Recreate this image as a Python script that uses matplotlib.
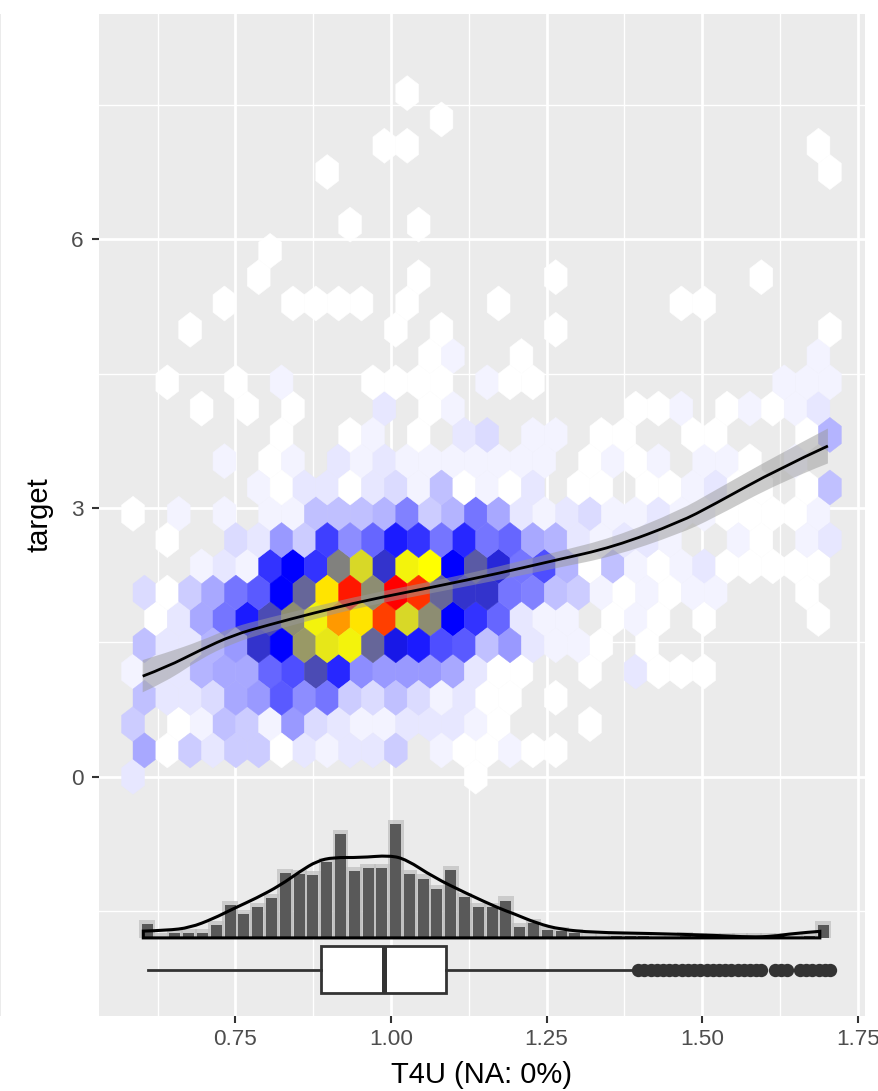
import numpy as np
import matplotlib
matplotlib.use("Agg")
import matplotlib.pyplot as plt
from matplotlib.colors import LinearSegmentedColormap
from matplotlib.patches import PathPatch, Rectangle
from matplotlib.path import Path

plt.rcParams['font.family'] = ['Liberation Sans', 'DejaVu Sans']

# hexagon bins: half-step column index and count for each row, row 0 at the bottom
cols_r00 = [0, 30]
n_r00 = [3, 1]
cols_r01 = [1, 3, 5, 7, 9, 11, 13, 15, 17, 19, 21, 23, 27, 29, 31, 33, 35, 37]
n_r01 = [8, 1, 5, 3, 5, 5, 1, 3, 2, 3, 3, 5, 2, 1, 1, 2, 1, 1]
cols_r02 = [0, 4, 6, 8, 10, 12, 14, 16, 18, 20, 22, 24, 26, 28, 30, 32, 40]
n_r02 = [5, 1, 2, 6, 5, 2, 9, 4, 3, 2, 2, 3, 3, 3, 2, 1, 1]
cols_r03 = [1, 3, 5, 7, 9, 11, 13, 15, 17, 19, 21, 23, 25, 27, 29, 31, 33, 37]
n_r03 = [6, 3, 3, 4, 8, 9, 14, 10, 12, 5, 4, 6, 4, 2, 3, 1, 1, 1]
cols_r04 = [0, 2, 4, 6, 8, 10, 12, 14, 16, 18, 20, 22, 24, 26, 28, 30, 32, 34, 40, 44, 46, 48, 50]
n_r04 = [2, 3, 3, 7, 8, 8, 13, 15, 27, 18, 10, 9, 9, 9, 8, 3, 1, 1, 1, 3, 1, 1, 1]
cols_r05 = [1, 3, 5, 7, 9, 11, 13, 15, 17, 19, 21, 23, 25, 27, 29, 31, 33, 35, 37, 39, 41, 45]
n_r05 = [6, 3, 3, 7, 9, 25, 21, 33, 39, 40, 29, 23, 19, 15, 14, 6, 9, 3, 2, 2, 1, 1]
cols_r06 = [2, 4, 6, 8, 10, 12, 14, 16, 18, 20, 22, 24, 26, 28, 30, 32, 34, 36, 38, 42, 44, 46, 50, 60]
n_r06 = [1, 3, 8, 12, 19, 27, 32, 40, 49, 43, 56, 38, 32, 21, 17, 13, 3, 2, 2, 1, 2, 1, 1, 1]
cols_r07 = [1, 3, 5, 7, 9, 11, 13, 15, 17, 19, 21, 23, 25, 27, 29, 31, 33, 35, 37, 39, 41, 43, 45, 47, 49, 51, 59]
n_r07 = [4, 1, 5, 8, 12, 14, 21, 29, 43, 59, 32, 61, 57, 29, 25, 25, 12, 11, 6, 5, 2, 1, 2, 1, 2, 2, 1]
cols_r08 = [6, 8, 10, 12, 14, 16, 18, 20, 22, 24, 26, 28, 30, 32, 34, 36, 38, 40, 42, 44, 46, 48, 50, 52, 54, 56, 58, 60]
n_r08 = [2, 3, 2, 17, 21, 17, 31, 38, 25, 40, 41, 21, 28, 24, 12, 15, 7, 1, 6, 2, 1, 2, 3, 1, 1, 1, 1, 1]
cols_r09 = [3, 9, 11, 13, 15, 17, 19, 21, 23, 25, 27, 29, 31, 33, 35, 37, 39, 41, 43, 45, 47, 53, 55, 59, 61]
n_r09 = [1, 4, 3, 9, 5, 16, 10, 13, 19, 17, 12, 18, 12, 13, 8, 7, 3, 2, 3, 3, 2, 2, 1, 2, 3]
cols_r10 = [0, 4, 8, 12, 14, 16, 18, 20, 22, 24, 26, 28, 30, 32, 34, 36, 38, 40, 42, 44, 46, 48, 50, 52, 54, 56, 58, 60]
n_r10 = [1, 2, 2, 2, 2, 6, 6, 6, 7, 11, 5, 7, 12, 8, 3, 2, 3, 4, 2, 2, 3, 2, 2, 1, 1, 1, 1, 2]
cols_r11 = [11, 13, 15, 17, 19, 21, 23, 25, 27, 29, 31, 33, 35, 39, 41, 45, 47, 49, 51, 53, 55, 59, 61]
n_r11 = [2, 1, 3, 3, 1, 3, 4, 2, 6, 1, 2, 1, 3, 1, 1, 1, 1, 2, 3, 1, 1, 1, 6]
cols_r12 = [8, 12, 14, 18, 20, 22, 24, 26, 28, 30, 32, 34, 36, 40, 42, 44, 46, 50, 52, 54, 58]
n_r12 = [2, 1, 2, 3, 2, 3, 2, 2, 2, 2, 2, 2, 2, 1, 2, 1, 2, 2, 2, 1, 2]
cols_r13 = [13, 19, 21, 25, 29, 31, 35, 37, 41, 43, 49, 51, 59, 61]
n_r13 = [1, 1, 2, 1, 3, 4, 2, 2, 1, 1, 1, 1, 1, 7]
cols_r14 = [6, 10, 14, 22, 26, 28, 44, 46, 48, 52, 54, 56, 58, 60]
n_r14 = [1, 1, 1, 3, 1, 2, 1, 1, 2, 1, 2, 1, 2, 3]
cols_r15 = [3, 9, 13, 21, 23, 25, 27, 31, 33, 35, 57, 59, 61]
n_r15 = [1, 1, 2, 1, 1, 1, 1, 2, 1, 1, 2, 2, 2]
cols_r16 = [26, 28, 34, 60]
n_r16 = [1, 2, 1, 2]
cols_r17 = [5, 23, 27, 37, 61]
n_r17 = [1, 1, 1, 1, 1]
cols_r18 = [8, 14, 16, 18, 20, 24, 32, 48, 50]
n_r18 = [1, 1, 1, 1, 1, 1, 1, 1, 1]
cols_r19 = [11, 25, 37, 55]
n_r19 = [1, 1, 1, 1]
cols_r20 = [12]
n_r20 = [1]
cols_r21 = [19, 25]
n_r21 = [1, 1]
cols_r22 = []
n_r22 = []
cols_r23 = [17, 61]
n_r23 = [1, 1]
cols_r24 = [22, 24, 60]
n_r24 = [1, 1, 1]
cols_r25 = [27]
n_r25 = [1]
cols_r26 = [24]
n_r26 = [1]

hex_cols = [cols_r00, cols_r01, cols_r02, cols_r03, cols_r04, cols_r05, cols_r06, cols_r07, cols_r08,
            cols_r09, cols_r10, cols_r11, cols_r12, cols_r13, cols_r14, cols_r15, cols_r16, cols_r17,
            cols_r18, cols_r19, cols_r20, cols_r21, cols_r22, cols_r23, cols_r24, cols_r25, cols_r26]
hex_counts = [n_r00, n_r01, n_r02, n_r03, n_r04, n_r05, n_r06, n_r07, n_r08,
              n_r09, n_r10, n_r11, n_r12, n_r13, n_r14, n_r15, n_r16, n_r17,
              n_r18, n_r19, n_r20, n_r21, n_r22, n_r23, n_r24, n_r25, n_r26]

# smooth line with its band
smooth_x = [0.601, 0.640, 0.693, 0.746, 0.801, 0.875, 0.961, 1.067, 1.175, 1.265, 1.357, 1.464, 1.517, 1.625, 1.702]
smooth_y = [1.122, 1.225, 1.412, 1.580, 1.690, 1.826, 1.971, 2.116, 2.273, 2.418, 2.563, 2.842, 3.032, 3.446, 3.692]
smooth_se = [0.18, 0.16, 0.10, 0.09, 0.08, 0.07, 0.065, 0.065, 0.075, 0.09, 0.105, 0.13, 0.15, 0.16, 0.195]

# marginal histogram
hist_counts = [21, 2, 8, 7, 7, 19, 50, 36, 46, 60, 97, 96, 94, 113, 155, 100, 105, 105, 171, 96, 89, 73, 102, 61, 46,
               46, 56, 16, 22, 12, 10, 7, 2, 1, 3, 3, 3, 1, 1, 3, 1, 2, 2, 1, 1, 1, 1, 2, 3, 19]
hist_start = 0.6085
hist_step = 0.02216

# density outline
dens_x = [0.602, 0.640, 0.677, 0.7145, 0.7466, 0.784, 0.822, 0.854, 0.881, 0.907, 0.950, 0.998, 1.025,
          1.068, 1.122, 1.175, 1.196, 1.235, 1.272, 1.325, 1.416, 1.524, 1.577, 1.614, 1.646, 1.689]
dens_y = [-1.724, -1.716, -1.686, -1.585, -1.474, -1.355, -1.213, -1.057, -0.942, -0.901, -0.904, -0.878, -0.926,
          -1.121, -1.306, -1.474, -1.526, -1.638, -1.705, -1.739, -1.750, -1.772, -1.791, -1.783, -1.750, -1.727]
dens_base = -1.800

# boxplot
box_low, box_q1, box_med, box_q3, box_high = 0.609, 0.8875, 0.988, 1.088, 1.387
outliers = [1.397, 1.407, 1.417, 1.427, 1.437, 1.447, 1.457, 1.467, 1.477, 1.487, 1.497, 1.507, 1.517, 1.527, 1.537,
            1.547, 1.557, 1.567, 1.577, 1.587, 1.594, 1.617, 1.627, 1.637, 1.657, 1.667, 1.677, 1.687, 1.697, 1.706]

x_ticks = [0.75, 1.00, 1.25, 1.50, 1.75]
x_tick_labels = ['0.75', '1.00', '1.25', '1.50', '1.75']
x_minor = [0.625, 0.875, 1.125, 1.375, 1.625]
y_ticks = [0, 3, 6]
y_minor = [-1.5, 1.5, 4.5, 7.5]


def curve_parts(xs, ys):
    # quadratic segments with the read points as control points, so the outline has no kinks
    pts = list(zip(xs, ys))
    verts, codes = [], []
    for i in range(1, len(pts) - 1):
        verts.append(pts[i])
        codes.append(Path.CURVE3)
        if i < len(pts) - 2:
            end = ((pts[i][0] + pts[i + 1][0]) / 2, (pts[i][1] + pts[i + 1][1]) / 2)
        else:
            end = pts[-1]
        verts.append(end)
        codes.append(Path.CURVE3)
    return verts, codes


W, H = 879, 1091
fig = plt.figure(figsize=(W / 100, H / 100), dpi=100)
ax = fig.add_axes([99 / W, 1 - 1016 / H, 766 / W, 1002 / H], facecolor='#EBEBEB')

# sliver of the neighbouring panel on the left edge
fig.add_artist(Rectangle((0, 1 - 1016 / H), 1 / W, 1002 / H, transform=fig.transFigure, color='#EBEBEB', lw=0))

# hexbin needs a lattice: two half steps per cell in x, two rows per cell in y
hex_x0, hex_sx = 0.5855, 0.03671
hex_y0, hex_sy = 0.0, 0.587
nx, ny = 32, 15
px, py, pn = [], [], []
for r in range(len(hex_cols)):
    for k, n in zip(hex_cols[r], hex_counts[r]):
        px.append(hex_x0 + k * hex_sx / 2)
        py.append(hex_y0 + r * hex_sy / 2)
        pn.append(n)

cmap = LinearSegmentedColormap.from_list('hex', ['white', 'blue', 'yellow', 'red'])
ax.hexbin(px, py, C=pn, reduce_C_function=np.sum, gridsize=(nx, ny),
          extent=(hex_x0, hex_x0 + nx * hex_sx, hex_y0, hex_y0 + ny * hex_sy),
          cmap=cmap, vmin=1, vmax=61, linewidths=0.35, edgecolors='face', zorder=2)

# band and line
sm_y = np.array(smooth_y)
sm_se = np.array(smooth_se)
up_v, up_c = curve_parts(smooth_x, sm_y + sm_se)
lo_v, lo_c = curve_parts(smooth_x[::-1], (sm_y - sm_se)[::-1])
band_verts = [(smooth_x[0], sm_y[0] + sm_se[0])] + up_v + [(smooth_x[-1], sm_y[-1] - sm_se[-1])] + lo_v + [(0, 0)]
band_codes = [Path.MOVETO] + up_c + [Path.LINETO] + lo_c + [Path.CLOSEPOLY]
ax.add_patch(PathPatch(Path(band_verts, band_codes), facecolor='#999999', alpha=0.5, lw=0, zorder=3))

ln_v, ln_c = curve_parts(smooth_x, smooth_y)
ax.add_patch(PathPatch(Path([(smooth_x[0], smooth_y[0])] + ln_v, [Path.MOVETO] + ln_c),
                       fill=False, edgecolor='black', lw=2.0, capstyle='butt', zorder=4))

# histogram with a pale halo round each bar
centers = hist_start + np.arange(len(hist_counts)) * hist_step
bar_h = np.array(hist_counts) * 0.00745
ax.bar(centers, bar_h + 0.045, bottom=dens_base, width=hist_step * 1.15, color='#BEBEBE', alpha=0.7, lw=0, zorder=3)
ax.bar(centers, bar_h, bottom=dens_base, width=hist_step * 0.8, color='#595959', lw=0, zorder=3.5)

# density outline, closed along its base
de_v, de_c = curve_parts(dens_x, dens_y)
dens_verts = [(dens_x[0], dens_base), (dens_x[0], dens_y[0])] + de_v + [(dens_x[-1], dens_base), (dens_x[0], dens_base), (0, 0)]
dens_codes = [Path.MOVETO, Path.LINETO] + de_c + [Path.LINETO, Path.LINETO, Path.CLOSEPOLY]
ax.add_patch(PathPatch(Path(dens_verts, dens_codes), fill=False, edgecolor='black', lw=2.2, joinstyle='miter', zorder=4))

box_stats = [{'whislo': box_low, 'q1': box_q1, 'med': box_med, 'q3': box_q3, 'whishi': box_high, 'fliers': outliers}]
ax.bxp(box_stats, positions=[-2.155], widths=[0.525], orientation='horizontal', patch_artist=True, showcaps=False,
       manage_ticks=False, zorder=4,
       boxprops=dict(facecolor='white', edgecolor='#333333', linewidth=2.0),
       whiskerprops=dict(color='#333333', linewidth=2.0),
       medianprops=dict(color='#333333', linewidth=3.6, solid_capstyle='butt'),
       flierprops=dict(marker='o', markersize=9.6, markerfacecolor='#333333', markeredgecolor='#333333', markeredgewidth=0))

ax.set_xlim(0.5308, 1.7616)
ax.set_ylim(-2.672, 8.515)
ax.set_xticks(x_ticks)
ax.set_xticklabels(x_tick_labels)
ax.set_yticks(y_ticks)
ax.set_xticks(x_minor, minor=True)
ax.set_yticks(y_minor, minor=True)
ax.set_axisbelow(True)
ax.grid(which='major', color='white', lw=2.0)
ax.grid(which='minor', color='white', lw=1.0)
ax.tick_params(which='minor', length=0)
ax.tick_params(which='major', length=5, width=1.5, color='#333333', labelcolor='#4D4D4D', labelsize=16.2)
ax.tick_params(axis='x', which='major', pad=4.5)
ax.tick_params(axis='y', which='major', pad=6)
for s in ax.spines.values():
    s.set_visible(False)

ax.set_xlabel('T4U (NA: 0%)', fontsize=21, color='black', labelpad=8)
ax.set_ylabel('target', fontsize=21, color='black', labelpad=13)

fig.savefig('out.png', dpi=100)
